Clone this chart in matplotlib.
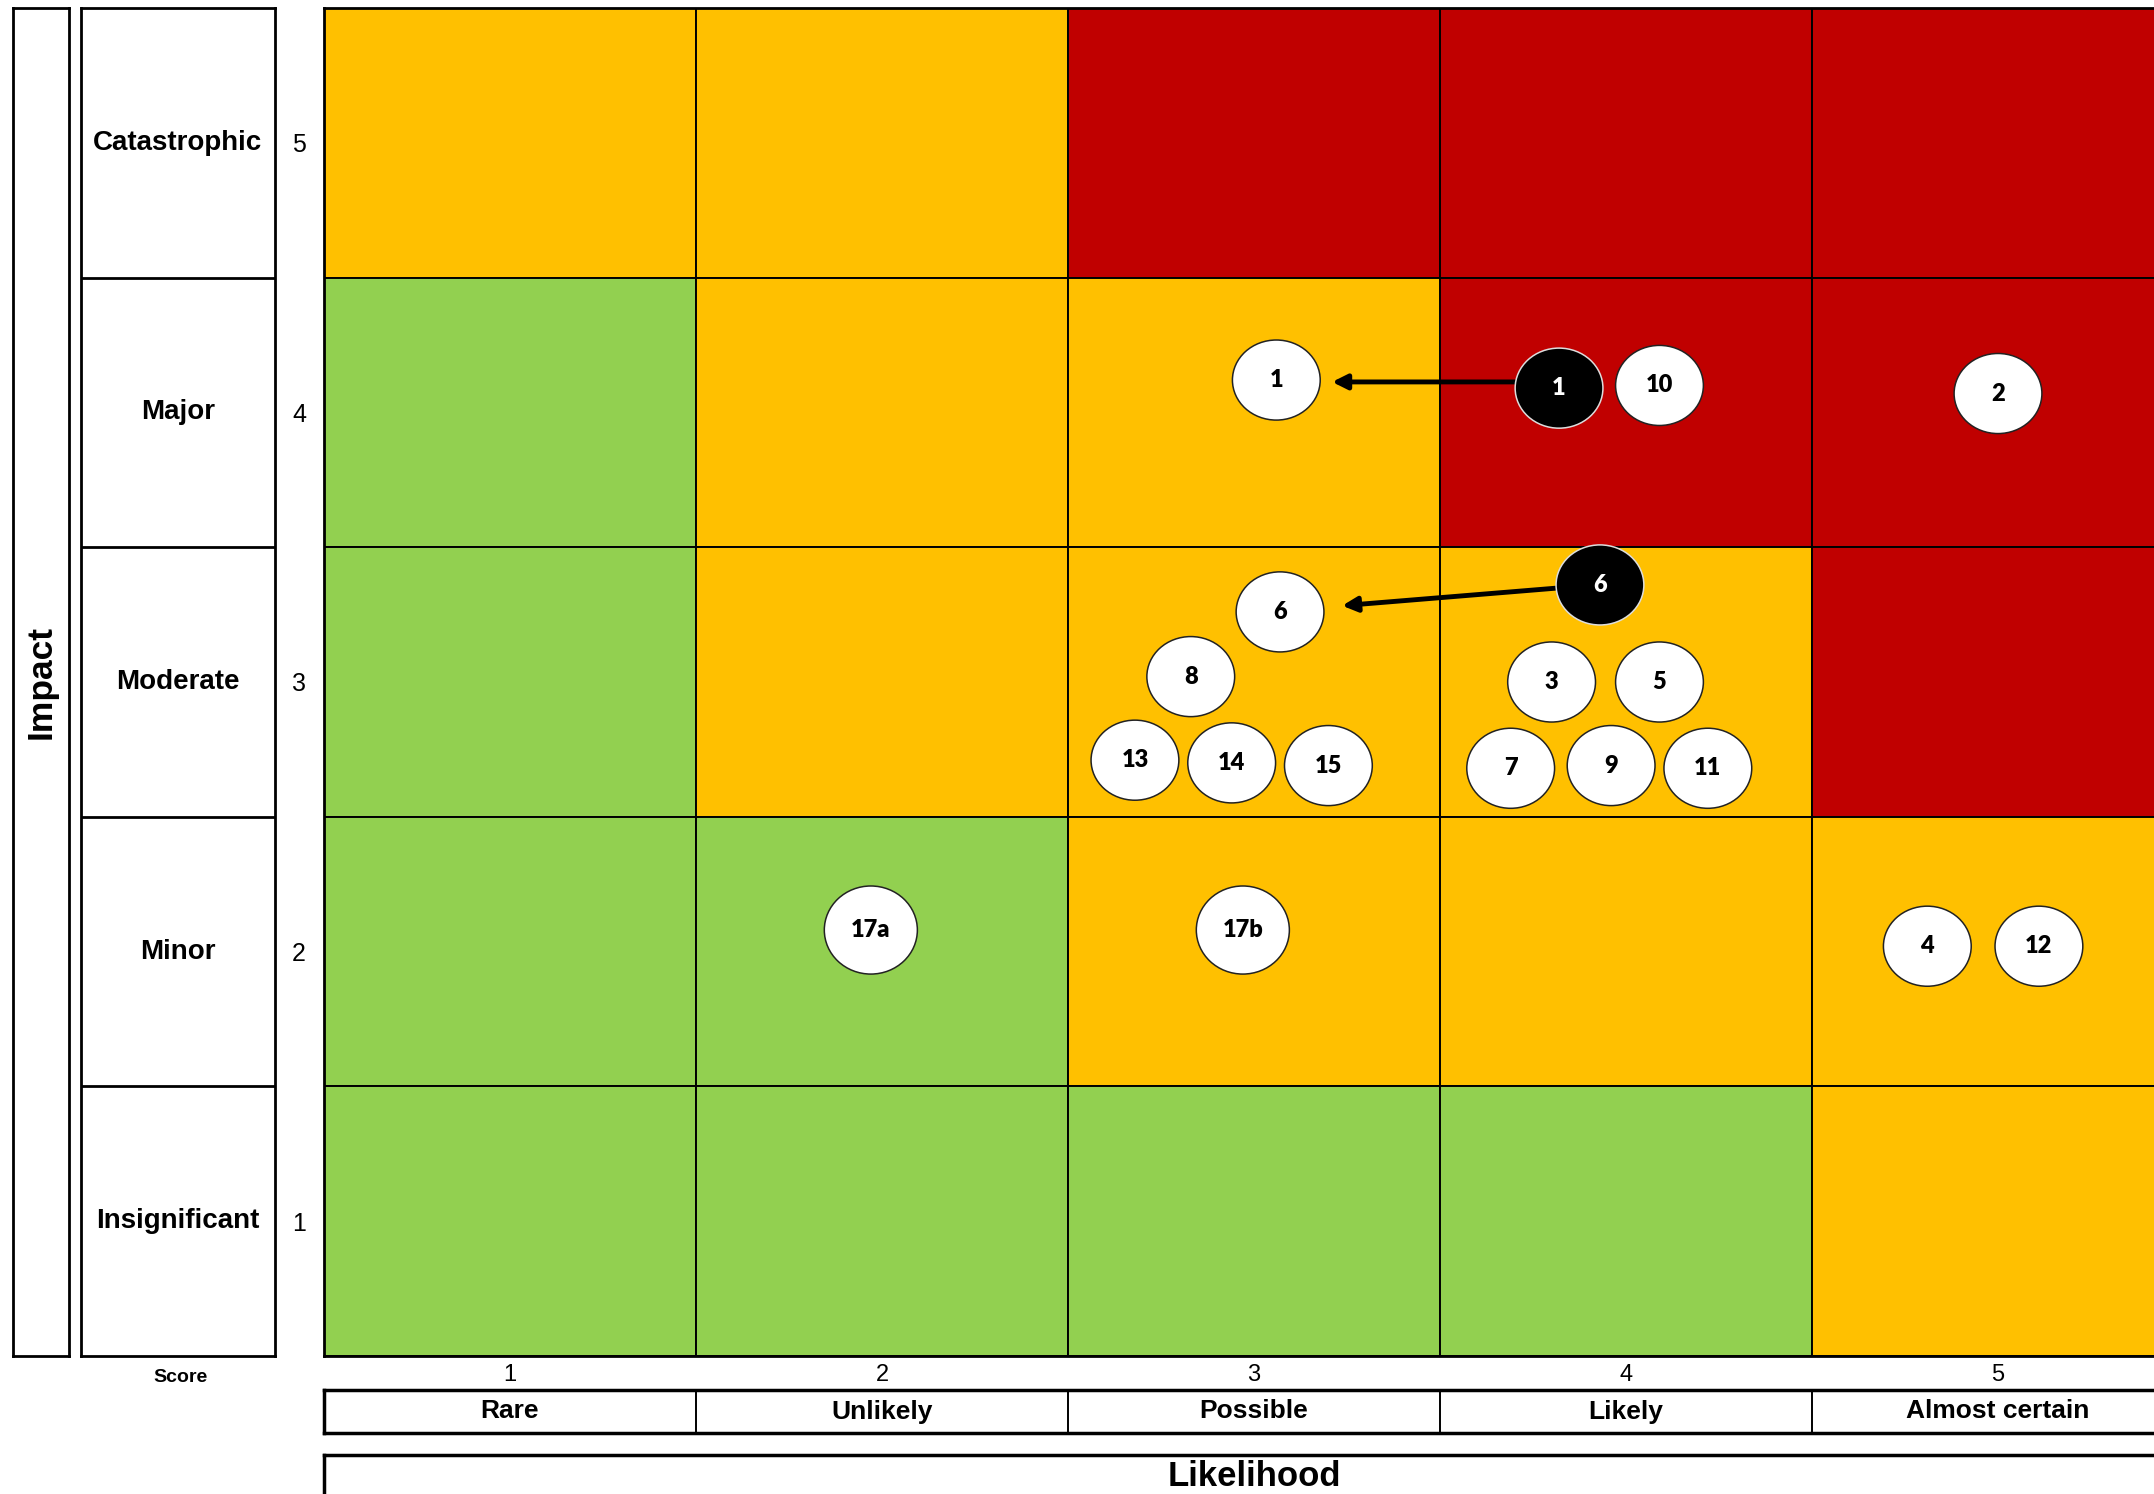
import matplotlib.pyplot as plt
from matplotlib.patches import Rectangle, Ellipse

# Matrix layout (impact rows 5 -> 1, likelihood columns 1 -> 5)
impact_labels = ['Catastrophic', 'Major', 'Moderate', 'Minor', 'Insignificant']
impact_scores = [5, 4, 3, 2, 1]
likelihood_labels = ['Rare', 'Unlikely', 'Possible', 'Likely', 'Almost certain']
likelihood_scores = [1, 2, 3, 4, 5]

# rating per cell: g = green, a = amber, r = red (rows from impact 5 down to 1)
cell_rating = [
    ['a', 'a', 'r', 'r', 'r'],
    ['g', 'a', 'a', 'r', 'r'],
    ['g', 'a', 'a', 'a', 'r'],
    ['g', 'g', 'a', 'a', 'a'],
    ['g', 'g', 'g', 'g', 'a'],
]
rating_colors = {'g': '#92D050', 'a': '#FFC000', 'r': '#C00000'}

# risks, positions (x = likelihood, y = impact)
risk_ids = ['1', '1', '10', '2', '6', '6', '8', '13', '14', '15',
            '3', '5', '7', '9', '11', '17a', '17b', '4', '12']
risk_x = [3.06, 3.82, 4.09, 5.00, 3.07, 3.93, 2.83, 2.68, 2.94, 3.20,
          3.80, 4.09, 3.69, 3.96, 4.22, 1.97, 2.97, 4.81, 5.11]
risk_y = [4.12, 4.09, 4.10, 4.07, 3.26, 3.36, 3.02, 2.71, 2.70, 2.69,
          3.00, 3.00, 2.68, 2.69, 2.68, 2.08, 2.08, 2.02, 2.02]
risk_previous = [False, True, False, False, False, True, False, False, False, False,
                 False, False, False, False, False, False, False, False, False]
# arrows from previous rating to current rating (start x, start y, end x, end y)
arrow_x0 = [3.71, 3.82]
arrow_y0 = [4.113, 3.349]
arrow_x1 = [3.21, 3.237]
arrow_y1 = [4.113, 3.283]

label_font = 'Liberation Sans'
bubble_font = 'Lato'

fig = plt.figure(figsize=(21.54, 14.94), dpi=100)
W, H = 2154, 1494


def box(x0, y0, x1, y1):
    # axes placed from pixel edges (top-left origin)
    return fig.add_axes([x0 / W, 1 - y1 / H, (x1 - x0) / W, (y1 - y0) / H])


# --- main matrix ---
ax = box(324, 8, 2184, 1356)
ax.set_xlim(0.5, 5.5)
ax.set_ylim(0.5, 5.5)
for i, row in enumerate(cell_rating):
    imp = impact_scores[i]
    for j, r in enumerate(row):
        lk = likelihood_scores[j]
        ax.add_patch(Rectangle((lk - 0.5, imp - 0.5), 1, 1, facecolor=rating_colors[r],
                               edgecolor='black', linewidth=1.4))
for s in ax.spines.values():
    s.set_linewidth(2)
ax.set_yticks(impact_scores)
ax.set_yticklabels([str(v) for v in impact_scores], fontsize=18, family=label_font)
ax.set_xticks(likelihood_scores)
ax.set_xticklabels([str(v) for v in likelihood_scores], fontsize=17, family=label_font)
ax.tick_params(axis='y', length=0, pad=13)
ax.tick_params(axis='x', length=0, pad=6)

bw, bh = 0.236, 0.297
for k, lab in enumerate(risk_ids):
    big = lab.startswith('17')
    w = bw * (1.06 if big else 1.0)
    h = bh * (1.1 if big else 1.0)
    if risk_previous[k]:
        fc, ec, tc = 'black', '#dddddd', 'white'
    else:
        fc, ec, tc = 'white', '#222222', 'black'
    ax.add_patch(Ellipse((risk_x[k], risk_y[k]), w, h, facecolor=fc, edgecolor=ec,
                         linewidth=1.1, zorder=5))
    ax.text(risk_x[k], risk_y[k], lab, ha='center', va='center', fontsize=17,
            fontweight='heavy', family=bubble_font, color=tc, zorder=6)

for x0, y0, x1, y1 in zip(arrow_x0, arrow_y0, arrow_x1, arrow_y1):
    ax.annotate('', xy=(x1, y1), xytext=(x0, y0),
                arrowprops=dict(arrowstyle='-|>', color='black', lw=3.5,
                                mutation_scale=22, shrinkA=0, shrinkB=0), zorder=4)

# --- impact label column ---
axl = box(81, 8, 275, 1356)
axl.set_xlim(0, 1)
axl.set_ylim(0.5, 5.5)
axl.set_xticks([])
axl.set_yticks([])
for s in axl.spines.values():
    s.set_linewidth(2)
for v in [1.5, 2.5, 3.5, 4.5]:
    axl.axhline(v, color='black', lw=2)
for lab, v in zip(impact_labels, impact_scores):
    axl.text(0.5, v, lab, ha='center', va='center', fontsize=20, fontweight='bold',
             family=label_font)
fig.text(180 / W, 1 - 1377 / H, 'Score', ha='center', va='center', fontsize=14,
         fontweight='bold', family=label_font)

axi = box(13, 8, 69, 1356)
axi.set_xticks([])
axi.set_yticks([])
for s in axi.spines.values():
    s.set_linewidth(2)
axi.text(0.5, 0.5, 'Impact', rotation=90, ha='center', va='center', fontsize=25.5,
         fontweight='bold', family=label_font, transform=axi.transAxes)

# --- likelihood label row ---
axb = box(324, 1390, 2184, 1433)
axb.set_xlim(0.5, 5.5)
axb.set_ylim(0, 1)
axb.set_xticks([])
axb.set_yticks([])
for s in axb.spines.values():
    s.set_linewidth(2.5)
for v in [1.5, 2.5, 3.5, 4.5]:
    axb.axvline(v, color='black', lw=1.4)
for lab, v in zip(likelihood_labels, likelihood_scores):
    axb.text(v, 0.5, lab, ha='center', va='center', fontsize=19, fontweight='bold',
             family=label_font)

axt = box(324, 1455, 2184, 1540)
axt.set_xticks([])
axt.set_yticks([])
for s in axt.spines.values():
    s.set_linewidth(2.5)
fig.text((324 + 2184) / 2 / W, 1 - 1476 / H, 'Likelihood', ha='center', va='center',
         fontsize=25, fontweight='bold', family=label_font)

fig.savefig('out.png', dpi=100)
